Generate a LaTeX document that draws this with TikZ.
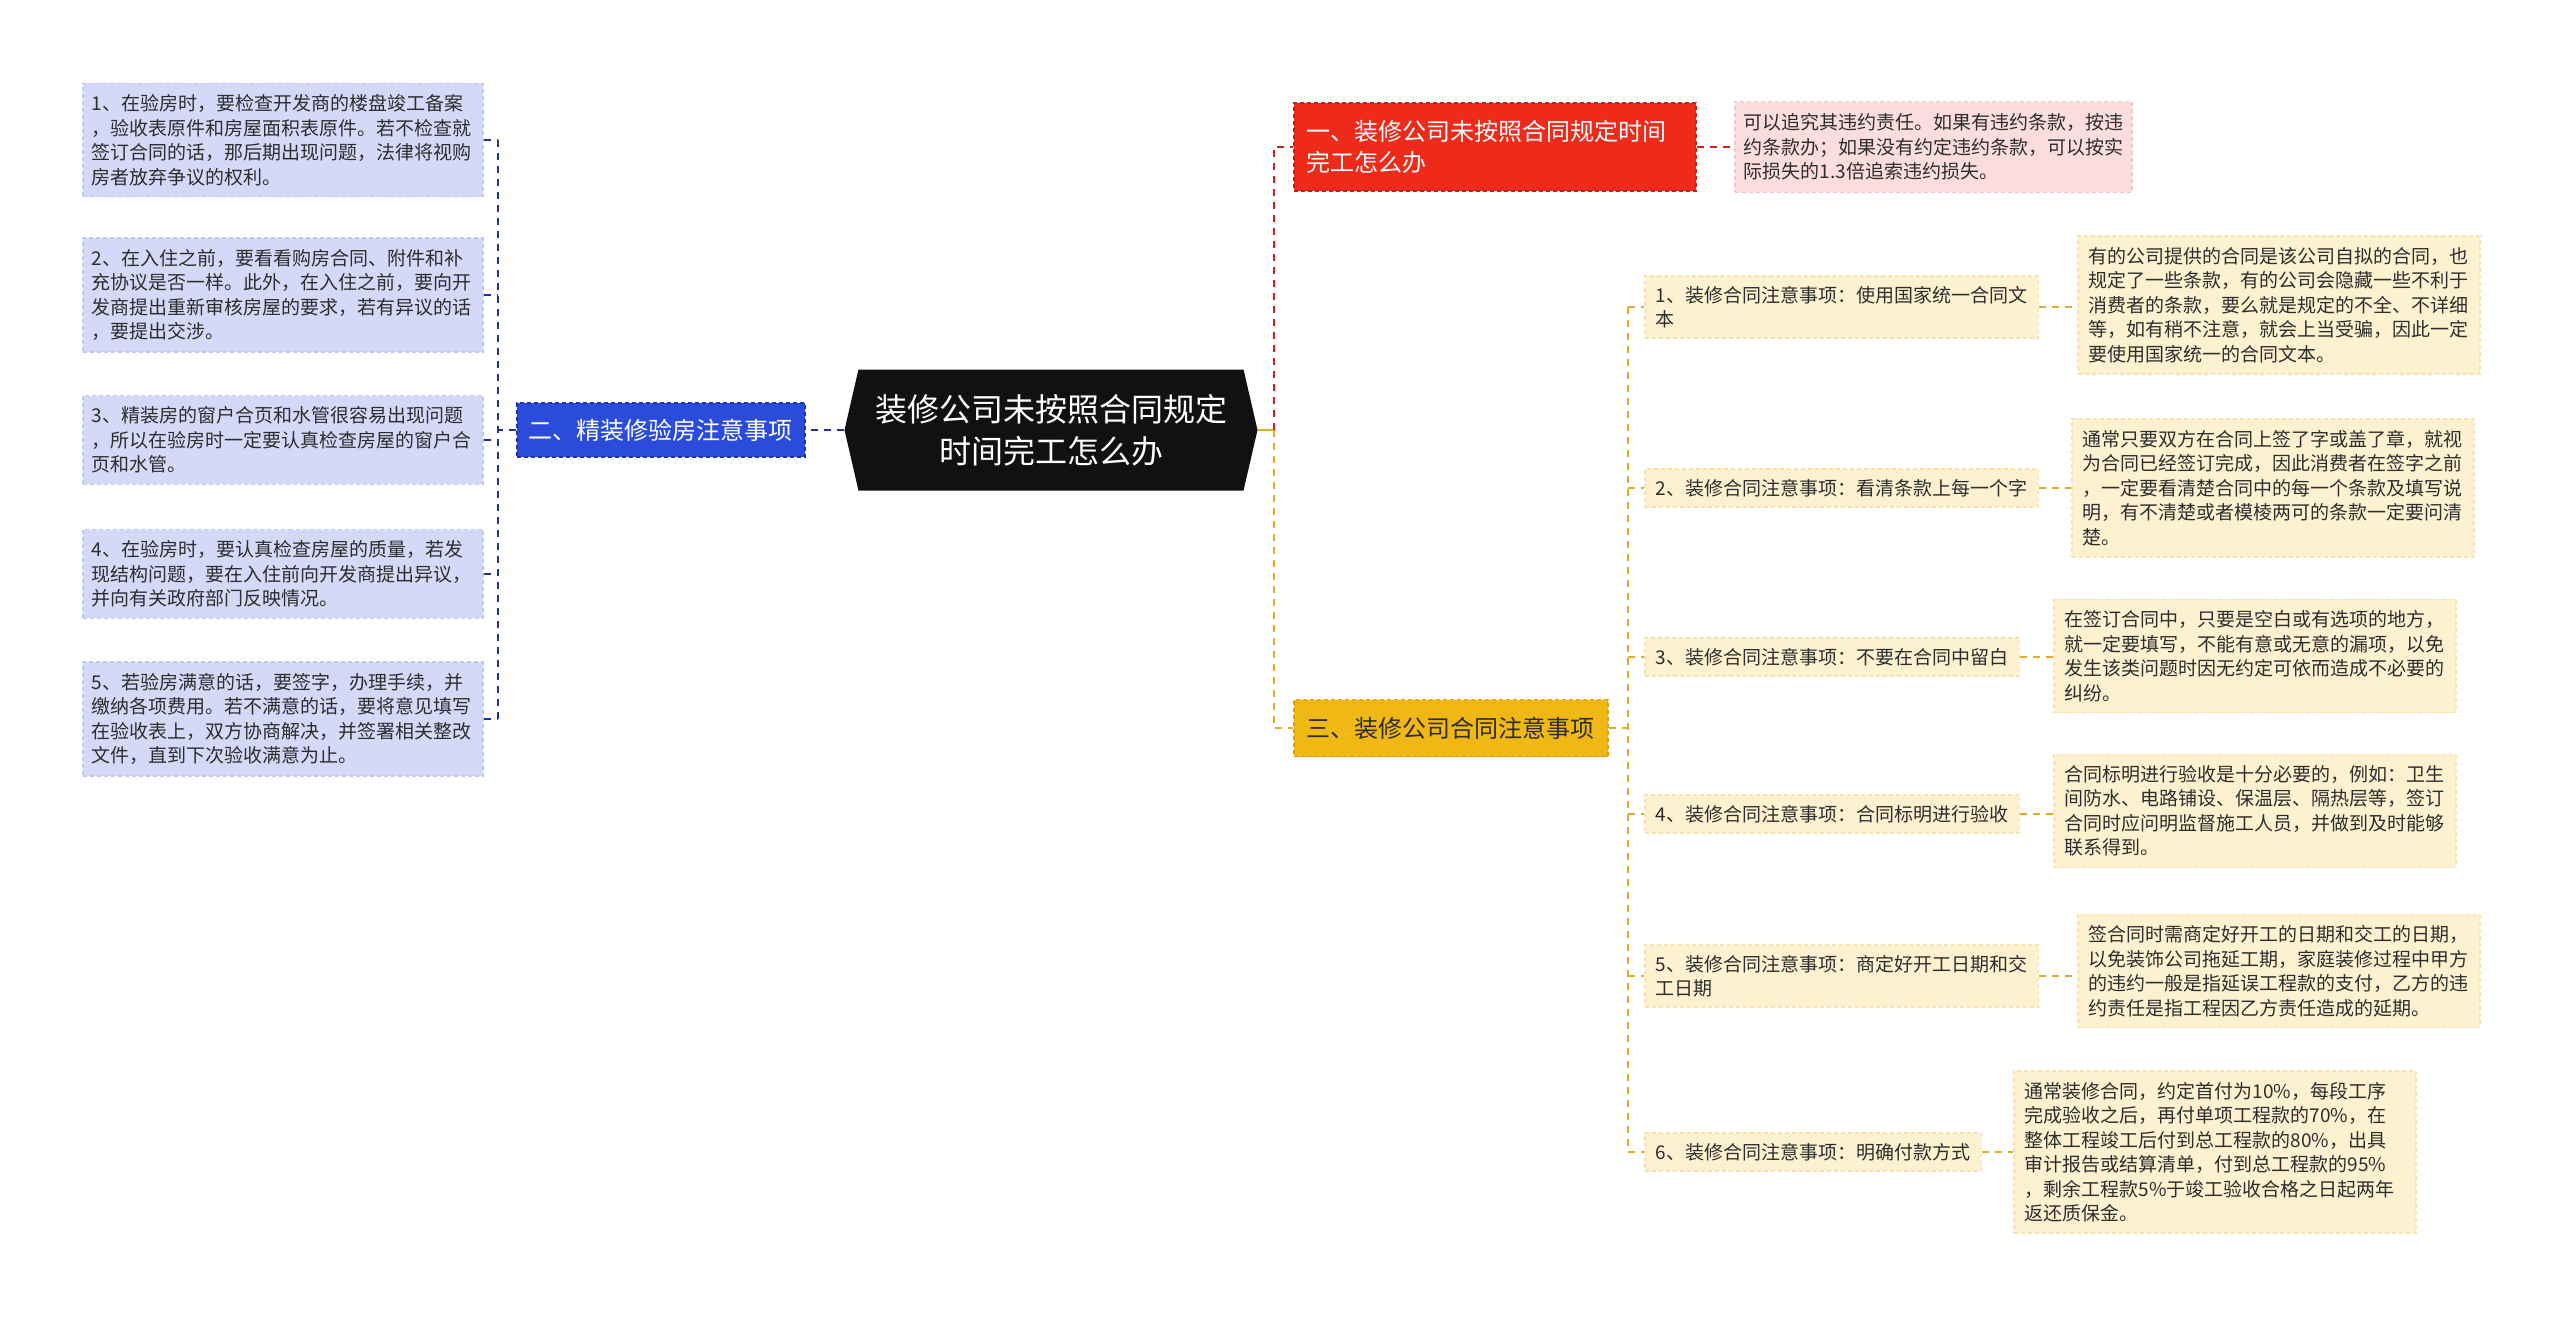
\documentclass[tikz,border=0pt]{standalone}
\usepackage{fontspec}
\setmainfont{Noto Sans CJK SC}
\usepackage{tikz}
\usetikzlibrary{shapes.symbols,positioning}
\usepackage{xcolor}
\definecolor{tproot}{RGB}{17,17,17}
\definecolor{tpblue}{RGB}{43,76,219}
\definecolor{tpblueedge}{RGB}{30,50,170}
\definecolor{tplav}{RGB}{213,217,248}
\definecolor{tplavedge}{RGB}{192,198,240}
\definecolor{tpbluelink}{RGB}{35,50,150}
\definecolor{tpred}{RGB}{238,42,26}
\definecolor{tprededge}{RGB}{200,30,20}
\definecolor{tppink}{RGB}{252,221,221}
\definecolor{tppinkedge}{RGB}{245,196,196}
\definecolor{tpredlink}{RGB}{200,32,30}
\definecolor{tpyellow}{RGB}{240,184,20}
\definecolor{tpyellowedge}{RGB}{214,160,10}
\definecolor{tpcream}{RGB}{253,241,208}
\definecolor{tpcreamedge}{RGB}{246,226,172}
\definecolor{tpyellowlink}{RGB}{226,170,40}
\definecolor{tptext}{RGB}{45,45,45}
\newcommand{\rootfont}{\fontsize{32}{42}\selectfont}
\newcommand{\branchfont}{\fontsize{24}{31}\selectfont}
\newcommand{\leaffont}{\fontsize{19}{24.5}\selectfont}

\begin{document}
\begin{tikzpicture}[
    x=1pt,y=-1pt,
    rootbox/.style={signal,signal to=east and west,signal pointer angle=154,
      fill=tproot,text=white,minimum width=413pt,minimum height=121pt,
      inner sep=0pt,align=center,font=\rootfont},
    edgedash/.style={dash pattern=on 4pt off 3pt,line width=1.5pt},
    bluebranch/.style={anchor=west,fill=tpblue,draw=tpblueedge,edgedash,text=white,
      font=\branchfont,minimum height=54pt,inner xsep=12pt},
    redbranch/.style={anchor=west,fill=tpred,draw=tprededge,edgedash,text=white,
      font=\branchfont,minimum height=88pt,text width=376pt,inner xsep=13pt,align=left},
    yellowbranch/.style={anchor=west,fill=tpyellow,draw=tpyellowedge,edgedash,text=tptext,
      font=\branchfont,minimum height=57pt,inner xsep=13pt},
    lavleaf/.style={anchor=west,fill=tplav,draw=tplavedge,edgedash,text=tptext,
      font=\leaffont,text width=382pt,inner xsep=9pt,inner ysep=11pt,align=left},
    pinkleaf/.style={anchor=west,fill=tppink,draw=tppinkedge,edgedash,text=tptext,
      font=\leaffont,text width=379pt,inner xsep=9pt,inner ysep=12pt,align=left},
    subitem/.style={anchor=west,fill=tpcream,draw=tpcreamedge,edgedash,text=tptext,
      font=\leaffont,inner xsep=11pt,inner ysep=10pt,align=left},
    detail/.style={anchor=west,fill=tpcream,draw=tpcreamedge,edgedash,text=tptext,
      font=\leaffont,text width=380pt,inner xsep=11pt,inner ysep=11pt,align=left},
    link/.style={line width=2.5pt,dash pattern=on 7pt off 6pt},
  ]
    \fill[white] (0,0) rectangle (2560,1318);
    \useasboundingbox (0,0) rectangle (2560,1318);

    % centre
    \node[rootbox] (root) at (1051,430) {装修公司未按照合同规定\\时间完工怎么办};

    % left branch
    \node[bluebranch] (b2) at (516,430) {二、精装修验房注意事项};
    \foreach \i/\y/\txt in {
      1/140/{1、在验房时，要检查开发商的楼盘竣工备案\\，验收表原件和房屋面积表原件。若不检查就\\签订合同的话，那后期出现问题，法律将视购\\房者放弃争议的权利。},
      2/295/{2、在入住之前，要看看购房合同、附件和补\\充协议是否一样。此外，在入住之前，要向开\\发商提出重新审核房屋的要求，若有异议的话\\，要提出交涉。},
      3/440/{3、精装房的窗户合页和水管很容易出现问题\\，所以在验房时一定要认真检查房屋的窗户合\\页和水管。},
      4/574/{4、在验房时，要认真检查房屋的质量，若发\\现结构问题，要在入住前向开发商提出异议，\\并向有关政府部门反映情况。},
      5/719/{5、若验房满意的话，要签字，办理手续，并\\缴纳各项费用。若不满意的话，要将意见填写\\在验收表上，双方协商解决，并签署相关整改\\文件，直到下次验收满意为止。}}
      \node[lavleaf] (l\i) at (82,\y) {\txt};

    % right top branch
    \node[redbranch] (b1) at (1293,147) {一、装修公司未按照合同规定时间\\完工怎么办};
    \node[pinkleaf] (r1) at (1734,147) {可以追究其违约责任。如果有违约条款，按违\\约条款办；如果没有约定违约条款，可以按实\\际损失的1.3倍追索违约损失。};

    % right bottom branch
    \node[yellowbranch] (b3) at (1293,728) {三、装修公司合同注意事项};
    \foreach \i/\y/\txt in {
      1/307/{1、装修合同注意事项：使用国家统一合同文\\本},
      2/488/{2、装修合同注意事项：看清条款上每一个字},
      3/657/{3、装修合同注意事项：不要在合同中留白},
      4/814/{4、装修合同注意事项：合同标明进行验收},
      5/976/{5、装修合同注意事项：商定好开工日期和交\\工日期},
      6/1152/{6、装修合同注意事项：明确付款方式}}
      \node[subitem] (s\i) at (1644,\y) {\txt};
    \foreach \i/\x/\y/\txt in {
      1/2077/305/{有的公司提供的合同是该公司自拟的合同，也\\规定了一些条款，有的公司会隐藏一些不利于\\消费者的条款，要么就是规定的不全、不详细\\等，如有稍不注意，就会上当受骗，因此一定\\要使用国家统一的合同文本。},
      2/2071/488/{通常只要双方在合同上签了字或盖了章，就视\\为合同已经签订完成，因此消费者在签字之前\\，一定要看清楚合同中的每一个条款及填写说\\明，有不清楚或者模棱两可的条款一定要问清\\楚。},
      3/2053/656/{在签订合同中，只要是空白或有选项的地方，\\就一定要填写，不能有意或无意的漏项，以免\\发生该类问题时因无约定可依而造成不必要的\\纠纷。},
      4/2053/811/{合同标明进行验收是十分必要的，例如：卫生\\间防水、电路铺设、保温层、隔热层等，签订\\合同时应问明监督施工人员，并做到及时能够\\联系得到。},
      5/2077/971/{签合同时需商定好开工的日期和交工的日期，\\以免装饰公司拖延工期，家庭装修过程中甲方\\的违约一般是指延误工程款的支付，乙方的违\\约责任是指工程因乙方责任造成的延期。},
      6/2013/1152/{通常装修合同，约定首付为10\%，每段工序\\完成验收之后，再付单项工程款的70\%，在\\整体工程竣工后付到总工程款的80\%，出具\\审计报告或结算清单，付到总工程款的95\%\\，剩余工程款5\%于竣工验收合格之日起两年\\返还质保金。}}
      \node[detail] (d\i) at (\x,\y) {\txt};

    % connectors
    \coordinate (lbus) at (498,430);
    \coordinate (rbus) at (1274,430);
    \coordinate (ybus) at (1628,728);
    \draw[tpbluelink,link] (root.west) -- (b2.east);
    \draw[tpbluelink,link] (b2.west) -- (lbus);
    \draw[tpbluelink,link] (l1.east -| lbus) -- (l5.east -| lbus);
    \foreach \i in {1,...,5}
      \draw[tpbluelink,link] (l\i.east) -- (l\i.east -| lbus);
    \draw[tpyellowlink,line width=2.5pt] (root.east) -- (rbus);
    \draw[tpredlink,link] (rbus) |- (b1.west);
    \draw[tpredlink,link] (b1.east) -- (r1.west);
    \draw[tpyellowlink,link] (rbus) |- (b3.west);
    \draw[tpyellowlink,link] (b3.east) -- (ybus);
    \draw[tpyellowlink,link] (s1.west -| ybus) -- (s6.west -| ybus);
    \foreach \i in {1,...,6} {
      \draw[tpyellowlink,link] (s\i.west -| ybus) -- (s\i.west);
      \draw[tpyellowlink,link] (s\i.east) -- (s\i.east -| d\i.west);
    }
  \end{tikzpicture}
\end{document}
